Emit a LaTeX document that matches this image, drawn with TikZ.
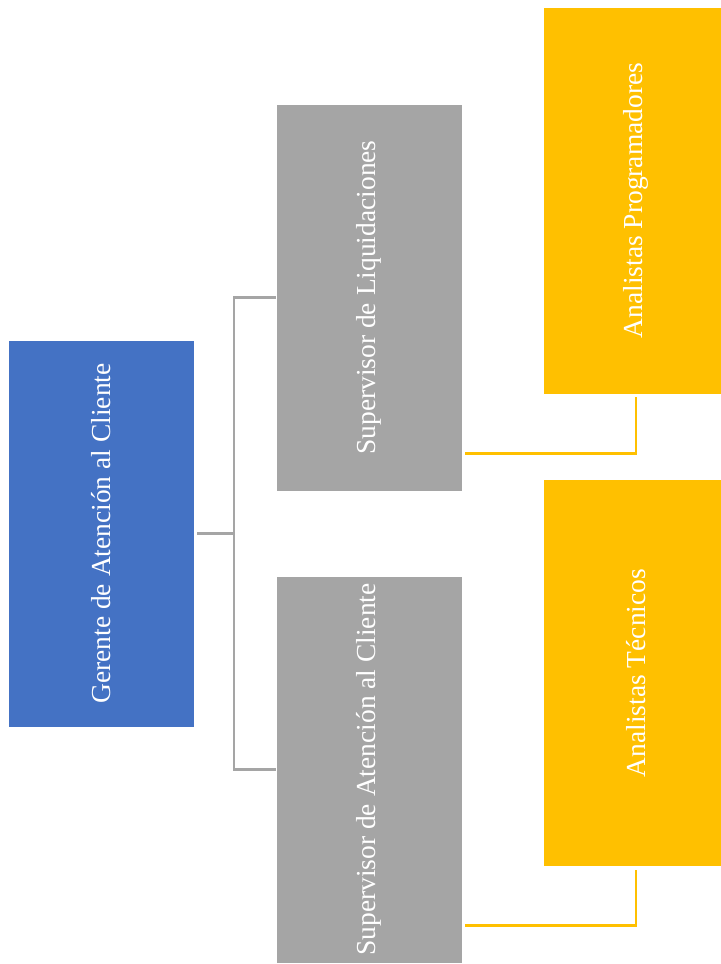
\documentclass[tikz,border=0pt]{standalone}
\usepackage{fontspec}
\setmainfont{Liberation Serif}
\definecolor{mgrblue}{HTML}{4472C4}
\definecolor{supgray}{HTML}{A5A5A5}
\definecolor{anagold}{HTML}{FFC000}
\begin{document}
\begin{tikzpicture}[x=0.75pt,y=-0.75pt,
  orgbox/.style={draw=white, line width=0.6pt, inner sep=0pt,
    minimum width=139.5pt, minimum height=290.25pt, text=white,
    font=\fontsize{20.6}{24}\selectfont},
  mgrbox/.style={orgbox, fill=mgrblue},
  supbox/.style={orgbox, fill=supgray},
  anabox/.style={orgbox, fill=anagold},
  gline/.style={draw=supgray, line width=1.6pt},
  yline/.style={draw=anagold, line width=1.9pt}]
  \useasboundingbox (0,0) rectangle (721,964);
  \fill[white] (0,0) rectangle (721,964);
  \clip (0,0) rectangle (721,964);

  % boxes
  \node[mgrbox] (mgr)  at (101,533.5) {\rotatebox{90}{Gerente de Atención al Cliente}};
  \node[supbox] (sup1) at (369,297.5) {\rotatebox{90}{Supervisor de Liquidaciones}};
  \node[supbox] (sup2) at (369,769.5) {\rotatebox{90}{Supervisor de Atención al Cliente}};
  \node[anabox] (ana1) at (636,200.5) {\rotatebox{90}{Analistas Programadores}};
  \node[anabox] (ana2) at (636,673)   {\rotatebox{90}{Analistas Técnicos}};

  % manager to supervisors
  \coordinate (jn) at (234,533.5);
  \draw[gline, shorten <=2pt] (mgr.east) -- (jn);
  \draw[gline] (sup1.west) -| (jn) |- (sup2.west);

  % supervisors to analysts
  \draw[yline, shorten <=2pt, shorten >=2pt] ([yshift=28.5pt]sup1.south east) -| (ana1.south);
  \draw[yline, shorten <=2pt, shorten >=2pt] ([yshift=28.5pt]sup2.south east) -| (ana2.south);
\end{tikzpicture}
\end{document}
